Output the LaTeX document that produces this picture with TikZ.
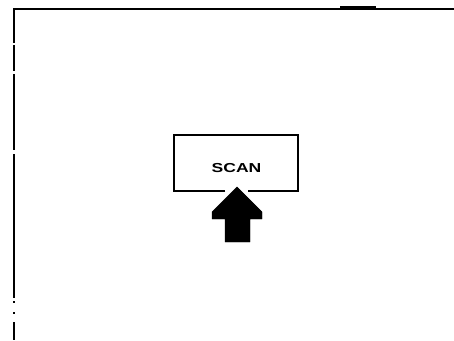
\documentclass[tikz,border=0pt]{standalone}
\usepackage{fontspec}
\setmainfont{Liberation Sans}
\tikzset{
  frameline/.style={line width=1.3pt, black},
  boxline/.style={line width=1.2pt, black},
  scantext/.style={font=\bfseries\fontsize{13}{14}\selectfont, inner sep=0pt},
  arrowfill/.style={fill=black, draw=black, line join=miter}
}
\begin{document}
\begin{tikzpicture}[x=1pt,y=-1pt]
\useasboundingbox (0,0) rectangle (454,340);
% frame
\coordinate (tl) at (14,9);
\coordinate (tr) at (454,9);
\draw[frameline] (tr) -- (tl) -- (14,43);
\draw[frameline] (14,45) -- (14,71);
\draw[frameline] (14,74) -- (14,150);
\draw[frameline] (14,154) -- (14,298);
\fill (13.3,301) rectangle (14.7,303);
\fill (13.3,312) rectangle (14.7,313.5);
\draw[frameline] (14,322) -- (14,340);
\fill (340,5.5) rectangle (376,9);
% box
\coordinate (b1) at (174,135);
\coordinate (b2) at (298,135);
\coordinate (b3) at (298,191);
\coordinate (b4) at (174,191);
\node[scantext] (scan) at (236.5,168) {\scalebox{1.35}[1]{SCAN}};
\draw[boxline] (225,191) -- (b4) -- (b1) -- (b2) -- (b3) -- (248,191);
% arrow
\draw[arrowfill] (237,187) -- (212,212) -- (212,219) -- (225,219) -- (225,242) -- (250,242) -- (250,219) -- (262,219) -- (262,212) -- cycle;
\end{tikzpicture}
\end{document}
